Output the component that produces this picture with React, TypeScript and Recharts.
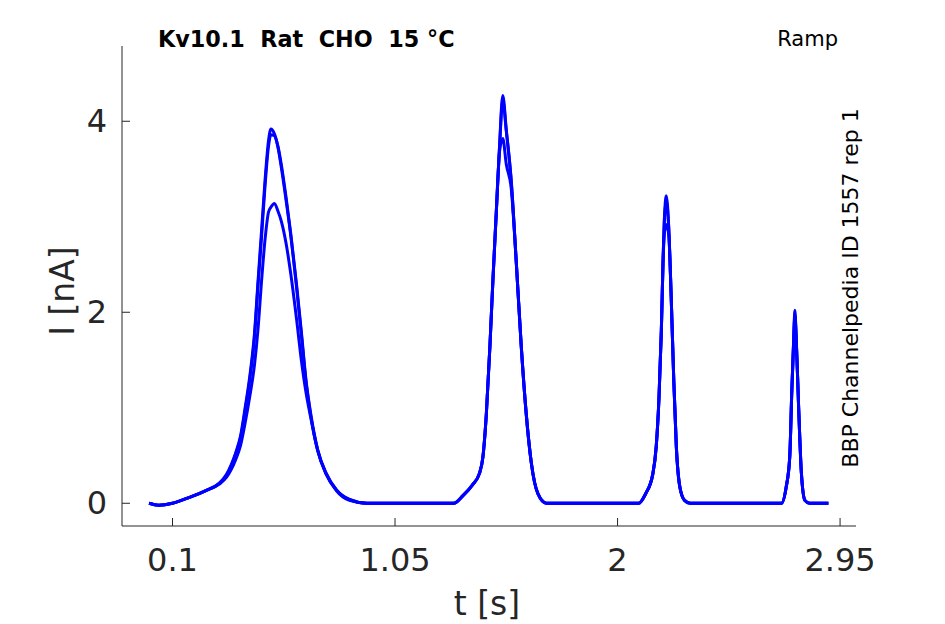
import React from "react";
import { LineChart, Line, XAxis, YAxis } from "recharts";

// time in seconds, current in nA (three sweeps)
const time = [
  0, 0.04, 0.1, 0.17, 0.24, 0.3, 0.33, 0.35, 0.37, 0.39, 0.41, 0.43, 0.45, 0.465, 0.48, 0.495,
  0.51, 0.52, 0.535, 0.55, 0.565, 0.585, 0.605, 0.63, 0.65, 0.67, 0.69, 0.72, 0.755, 0.8, 0.855, 0.93,
  1.05, 1.18, 1.3, 1.34, 1.38, 1.41, 1.425, 1.44, 1.455, 1.468, 1.482, 1.496, 1.51, 1.525, 1.546,
  1.568, 1.589, 1.61, 1.632, 1.66, 1.696,
  1.8, 1.95, 2.09, 2.12, 2.15, 2.165, 2.177, 2.187, 2.194, 2.201, 2.208, 2.219, 2.229, 2.24, 2.251,
  2.266, 2.286, 2.31,
  2.45, 2.6, 2.7, 2.72, 2.735, 2.744, 2.752, 2.757, 2.763, 2.773, 2.785, 2.8, 2.82, 2.86, 2.9,
];

const traceA = [
  0, -0.02, 0, 0.06, 0.13, 0.21, 0.3, 0.4, 0.53, 0.7, 1.0, 1.33, 1.78, 2.32, 2.85, 3.38,
  3.8, 3.92, 3.87, 3.73, 3.51, 3.17, 2.8, 2.25, 1.77, 1.27, 0.92, 0.55, 0.31, 0.13, 0.03, 0,
  0, 0, 0, 0.08, 0.19, 0.31, 0.48, 0.94, 1.64, 2.34, 3.03, 3.73, 4.27, 3.91, 3.38,
  2.51, 1.64, 0.94, 0.42, 0.1, 0,
  0, 0, 0, 0.1, 0.3, 0.59, 1.11, 1.81, 2.51, 3.03, 3.22, 2.86, 2.16, 1.29, 0.59,
  0.17, 0.03, 0,
  0, 0, 0, 0.17, 0.48, 1.18, 1.71, 2.02, 1.71, 1.01, 0.31, 0.03, 0, 0, 0,
];

const traceB = [
  0, -0.02, 0, 0.06, 0.13, 0.21, 0.29, 0.39, 0.52, 0.68, 0.97, 1.3, 1.74, 2.28, 2.78, 3.32,
  3.74, 3.86, 3.85, 3.74, 3.54, 3.2, 2.82, 2.28, 1.8, 1.29, 0.94, 0.56, 0.32, 0.14, 0.04, 0,
  0, 0, 0, 0.08, 0.19, 0.31, 0.48, 0.94, 1.64, 2.34, 3.03, 3.72, 4.22, 3.9, 3.38,
  2.51, 1.64, 0.94, 0.42, 0.1, 0,
  0, 0, 0, 0.1, 0.3, 0.59, 1.11, 1.81, 2.51, 3.02, 3.16, 2.86, 2.16, 1.29, 0.59,
  0.17, 0.03, 0,
  0, 0, 0, 0.17, 0.48, 1.18, 1.71, 1.98, 1.71, 1.01, 0.31, 0.03, 0, 0, 0,
];

const traceC = [
  0, -0.02, 0, 0.06, 0.13, 0.2, 0.27, 0.35, 0.46, 0.6, 0.84, 1.12, 1.45, 1.82, 2.32, 2.76,
  3.05, 3.1, 3.14, 3.06, 2.95, 2.72, 2.4, 1.92, 1.5, 1.16, 0.9, 0.55, 0.31, 0.14, 0.04, 0,
  0, 0, 0, 0.08, 0.19, 0.31, 0.48, 0.94, 1.64, 2.34, 3.03, 3.68, 3.82, 3.55, 3.3,
  2.51, 1.64, 0.94, 0.42, 0.1, 0,
  0, 0, 0, 0.1, 0.3, 0.59, 1.11, 1.81, 2.51, 2.85, 2.92, 2.8, 2.16, 1.29, 0.59,
  0.17, 0.03, 0,
  0, 0, 0, 0.17, 0.48, 1.18, 1.71, 1.95, 1.71, 1.01, 0.31, 0.03, 0, 0, 0,
];

const xTicks = [0.1, 1.05, 2, 2.95];
const xTickLabels = ["0.1", "1.05", "2", "2.95"];
const yTicks = [0, 2, 4];

const data = time.map((t, i) => ({ t, a: traceA[i], b: traceB[i], c: traceC[i] }));

const INK = "#262626";
const FONT = "DejaVu Sans";

// ticks point inward, like the original figure
const XTick = (props: any) => {
  const { x, y, payload } = props;
  const idx = xTicks.indexOf(payload.value);
  return (
    <g>
      <line x1={x} x2={x} y1={y} y2={y - 8} stroke={INK} strokeWidth={1} />
      <text x={x} y={y + 34} textAnchor="middle" dominantBaseline="central" fontSize={32} fill={INK} fontFamily={FONT}>
        {idx >= 0 ? xTickLabels[idx] : payload.value}
      </text>
    </g>
  );
};

const YTick = (props: any) => {
  const { x, y, payload } = props;
  return (
    <g>
      <line x1={x} x2={x + 8} y1={y} y2={y} stroke={INK} strokeWidth={1} />
      <text x={x - 15} y={y} textAnchor="end" dominantBaseline="central" fontSize={32} fill={INK} fontFamily={FONT}>
        {payload.value}
      </text>
    </g>
  );
};

export default function App() {
  return (
    <div style={{ position: "absolute", left: 0, top: 0, width: 945, height: 624, background: "#fff" }}>
      <LineChart
        width={945}
        height={624}
        data={data}
        margin={{ top: 46, right: 89, bottom: 58, left: 62 }}
      >
        <XAxis
          type="number"
          dataKey="t"
          domain={[-0.1156, 3.018]}
          allowDataOverflow
          ticks={xTicks}
          height={40}
          tickSize={0}
          tickMargin={0}
          tickLine={false}
          axisLine={{ stroke: INK, strokeWidth: 1 }}
          tick={<XTick />}
          interval={0}
        />
        <YAxis
          type="number"
          domain={[-0.238, 4.788]}
          allowDataOverflow
          ticks={yTicks}
          width={60}
          tickSize={0}
          tickMargin={0}
          tickLine={false}
          axisLine={{ stroke: INK, strokeWidth: 1 }}
          tick={<YTick />}
          interval={0}
        />
        <Line type="monotone" dataKey="c" stroke="#0000ff" strokeWidth={3} dot={false} isAnimationActive={false} />
        <Line type="monotone" dataKey="b" stroke="#0000ff" strokeWidth={3} dot={false} isAnimationActive={false} />
        <Line type="monotone" dataKey="a" stroke="#0000ff" strokeWidth={3} dot={false} isAnimationActive={false} />
      </LineChart>
      <svg
        width={945}
        height={624}
        style={{ position: "absolute", left: 0, top: 0, pointerEvents: "none" }}
        fontFamily={FONT}
      >
        <text x={158} y={47} fontSize={22.3} fontWeight="bold" fill="#000" style={{ whiteSpace: "pre" }}>
          {"Kv10.1  Rat  CHO  15 °C"}
        </text>
        <text x={838} y={46} fontSize={21} textAnchor="end" fill="#000">
          Ramp
        </text>
        <text
          x={0}
          y={0}
          fontSize={22}
          textAnchor="middle"
          dominantBaseline="central"
          fill="#000"
          transform="translate(850 288) rotate(-90)"
        >
          BBP Channelpedia ID 1557 rep 1
        </text>
        <text x={0} y={0} fontSize={33} textAnchor="middle" dominantBaseline="central" fill={INK} transform="translate(62 291) rotate(-90)">
          I [nA]
        </text>
        <text x={487} y={603} fontSize={33} textAnchor="middle" dominantBaseline="central" fill={INK}>
          t [s]
        </text>
      </svg>
    </div>
  );
}
